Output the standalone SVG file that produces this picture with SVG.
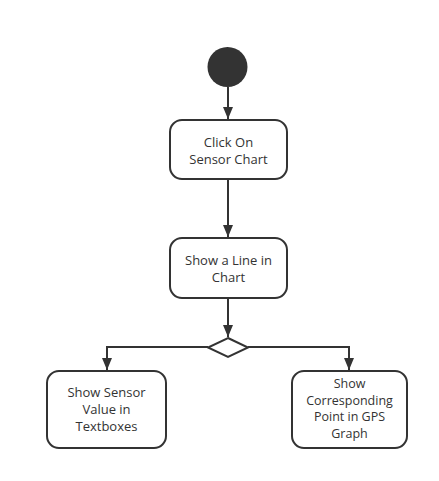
<svg xmlns="http://www.w3.org/2000/svg" width="439" height="481" viewBox="0 0 439 481">
<defs>
<style>
.box{fill:#fff;stroke:#333;stroke-width:2}
.t{font-family:"Open Sans","Noto Sans",sans-serif;font-size:13px;fill:#333;text-anchor:middle}
.s{font-size:12.5px}
.c{fill:none;stroke:#333;stroke-width:2}
</style>
<marker id="ah" viewBox="0 0 12 10" refX="12" refY="5" markerWidth="6" markerHeight="5" orient="auto" markerUnits="strokeWidth">
<path d="M0,0 L12,5 L0,10 z" fill="#333"/>
</marker>
</defs>
<rect width="439" height="481" fill="#fff"/>
<g id="connectors">
<path class="c" d="M228,87 V119" marker-end="url(#ah)"/>
<path class="c" d="M228,179 V237" marker-end="url(#ah)"/>
<path class="c" d="M228,298 V337" marker-end="url(#ah)"/>
<path class="c" d="M208,347 H107 V370" marker-end="url(#ah)"/>
<path class="c" d="M248,347 H349 V370" marker-end="url(#ah)"/>
</g>
<g id="start"><circle cx="227.5" cy="67" r="20" fill="#333"/></g>
<g id="n1"><rect class="box" x="170" y="120" width="117" height="59" rx="12"/>
<text class="t" x="228.5" y="147">Click On</text><text class="t" x="228.5" y="164">Sensor Chart</text></g>
<g id="n2"><rect class="box" x="170" y="238" width="117" height="60" rx="12"/>
<text class="t" x="228.5" y="265">Show a Line in</text><text class="t" x="228.5" y="282">Chart</text></g>
<g id="decision"><polygon points="228,338 248,347.5 228,357 208,347.5" fill="#fff" stroke="#333" stroke-width="2"/></g>
<g id="n3"><rect class="box" x="47" y="371" width="119" height="77" rx="12"/>
<text class="t" x="106.5" y="397">Show Sensor</text><text class="t" x="106.5" y="414">Value in</text><text class="t" x="106.5" y="431">Textboxes</text></g>
<g id="n4"><rect class="box" x="292" y="371" width="115" height="77" rx="12"/>
<text class="t s" x="349.5" y="388">Show</text><text class="t s" x="349.5" y="404.5">Corresponding</text><text class="t s" x="349.5" y="421">Point in GPS</text><text class="t s" x="349.5" y="437.5">Graph</text></g>
</svg>
